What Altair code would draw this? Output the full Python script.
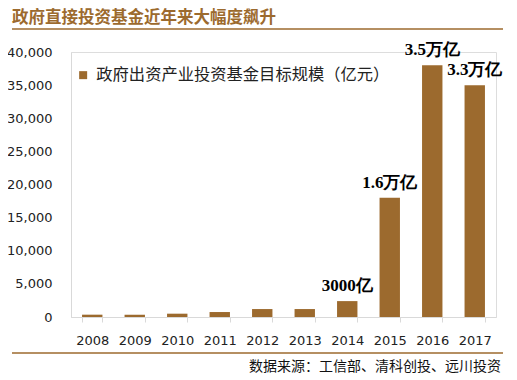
import altair as alt
import pandas as pd

years = ["2008", "2009", "2010", "2011", "2012", "2013", "2014", "2015", "2016", "2017"]
values = [350, 350, 500, 750, 1200, 1200, 2400, 18000, 38000, 35000]
series_name = "政府出资产业投资基金目标规模（亿元）"

ann_years = ["2014", "2015", "2016", "2017"]
ann_values = [2400, 18000, 38000, 35000]
ann_text = ["3000亿", "1.6万亿", "3.5万亿", "3.3万亿"]

title_text = "政府直接投资基金近年来大幅度飙升"
source_text = "数据来源：工信部、清科创投、远川投资"

BROWN = "#9C6A2E"
W, H = 425, 265

df = pd.DataFrame({"year": years, "value": values, "series": series_name})
ann = pd.DataFrame({"year": ann_years, "value": ann_values, "label": ann_text})

x_enc = alt.X(
    "year:N",
    sort=years,
    scale=alt.Scale(paddingInner=0.52, paddingOuter=0.26),
    axis=alt.Axis(
        title=None, labelAngle=0, tickBand="extent", ticks=True, tickSize=5,
        tickColor="#d9d9d9", domainColor="#d9d9d9", labelFont="DejaVu Sans",
        labelFontSize=13, labelColor="#222222", labelPadding=12,
    ),
)

y_enc = alt.Y(
    "value:Q",
    scale=alt.Scale(domain=[0, 40000], nice=False),
    axis=alt.Axis(
        title=None, values=list(range(0, 40001, 5000)), format=",d",
        grid=False, ticks=False, domainColor="#d9d9d9",
        labelFont="DejaVu Sans", labelFontSize=13, labelColor="#222222",
        labelPadding=19,
    ),
)

bars = alt.Chart(df).mark_bar(color=BROWN).encode(
    x=x_enc,
    y=y_enc,
    color=alt.Color(
        "series:N",
        scale=alt.Scale(range=[BROWN]),
        legend=alt.Legend(
            title=None, orient="none", legendX=4, legendY=15,
            symbolType="square", symbolSize=64, symbolStrokeWidth=0,
            labelFont="Noto Sans CJK SC", labelFontSize=16.3, labelColor="#222222",
            labelOffset=5, padding=0, labelLimit=400,
        ),
    ),
)

labels = alt.Chart(ann).mark_text(
    font="Liberation Serif", fontWeight="bold", fontSize=17, color="#000000",
    dy=-10, baseline="alphabetic",
).encode(
    x=x_enc,
    y=y_enc,
    text="label:N",
)

top_line = alt.Chart(pd.DataFrame({"a": [0]})).mark_rule(color=BROWN, strokeWidth=1.5).encode(
    x=alt.value(-59), x2=alt.value(432), y=alt.value(-23)
)
bottom_line = alt.Chart(pd.DataFrame({"a": [0]})).mark_rule(color=BROWN, strokeWidth=1.5).encode(
    x=alt.value(-59), x2=alt.value(432), y=alt.value(301)
)

source = alt.Chart(pd.DataFrame({"t": [source_text]})).mark_text(
    font="Noto Sans CJK SC", fontSize=14, color="#111111",
    align="right", baseline="middle",
).encode(x=alt.value(430), y=alt.value(315), text="t:N")

chart = alt.layer(bars, labels, top_line, bottom_line, source).properties(
    width=W, height=H,
    autosize=alt.AutoSizeParams(type="none"),
    padding={"left": 63, "top": 44, "right": 13, "bottom": 62},
    title=alt.TitleParams(
        title_text, anchor="start", frame="group", orient="top",
        font="Noto Sans CJK SC", fontWeight="bold", fontSize=16.5, color=BROWN,
        baseline="middle", dx=-59, offset=0, dy=6,
    ),
).configure_view(stroke=None).configure(background="#ffffff")

chart.save("out.html", embed_options={"renderer": "svg", "actions": False})
